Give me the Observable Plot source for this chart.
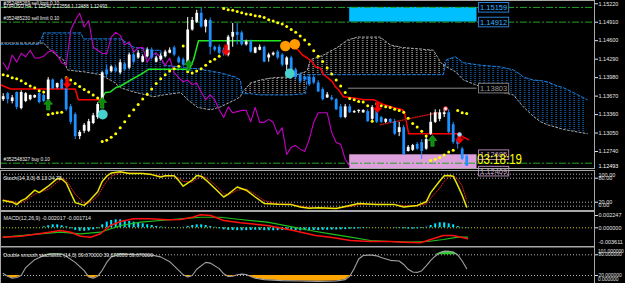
<!DOCTYPE html>
<html><head><meta charset="utf-8">
<script src="https://cdn.jsdelivr.net/npm/d3@7"></script>
<script src="https://cdn.jsdelivr.net/npm/@observablehq/plot@0.6"></script>
<style>
html,body{margin:0;padding:0;background:#000;}
#chart{position:relative;width:625px;height:283px;overflow:hidden;background:#000;}
#chart svg{display:block;}
</style></head><body>
<svg width="0" height="0" style="position:absolute">
<defs>
<pattern id="hatchBlue" patternUnits="userSpaceOnUse" x="0" y="0" width="4.5" height="2"><rect x="2.2" y="0" width="1" height="1" fill="#1E90FF"/></pattern>
<pattern id="hatchWhite" patternUnits="userSpaceOnUse" x="0" y="0" width="4.5" height="2"><rect x="2.2" y="0" width="1" height="1" fill="#E4E4E4"/></pattern>
</defs></svg>
<div id="chart"></div>
<script>
// ---------- DATA (EURUSD H4) ----------
const open = [1.1361,1.1371,1.1358,1.1373,1.1346,1.1358,1.1361,1.1364,1.1371,1.1368,
1.1361,1.1394,1.1381,1.1394,1.1379,1.1349,1.1336,1.1299,1.1308,1.1308,
1.1321,1.1331,1.1361,1.1411,1.1408,1.1414,1.1406,1.1421,1.1414,1.1436,
1.1431,1.1424,1.1433,1.1444,1.1424,1.1428,1.1433,1.1439,1.1448,1.1431,
1.1428,1.1423,1.1478,1.1491,1.1506,1.1483,1.1494,1.1449,1.1449,1.1444,
1.1436,1.1466,1.1474,1.1473,1.1453,1.1458,1.1439,1.1444,1.1449,1.1431,
1.1436,1.1441,1.1436,1.1419,1.1431,1.1411,1.1403,1.1399,1.1399,1.1398,
1.1389,1.1378,1.1364,1.1364,1.1361,1.1349,1.1331,1.1349,1.1339,1.1341,
1.1339,1.1341,1.1328,1.1344,1.1331,1.1323,1.1328,1.1324,1.1306,1.1314,
1.1274,1.1276,1.1286,1.1289,1.1278,1.1303,1.1323,1.1328,1.1336,1.1339,
1.1319,1.1294,1.1278,1.1266];
const high = [1.1371,1.1373,1.1368,1.1374,1.1376,1.1373,1.1369,1.1369,1.1373,1.1371,
1.1398,1.1396,1.1389,1.1396,1.1394,1.1353,1.1339,1.1309,1.1321,1.1328,
1.1338,1.1356,1.1408,1.1419,1.1418,1.1418,1.1428,1.1424,1.1439,1.1439,
1.1443,1.1436,1.1448,1.1448,1.1434,1.1438,1.1444,1.1448,1.1451,1.1434,
1.1431,1.1499,1.1499,1.1511,1.1514,1.1496,1.1498,1.1451,1.1453,1.1448,
1.1469,1.1489,1.1489,1.1476,1.1461,1.1461,1.1449,1.1453,1.1451,1.1439,
1.1441,1.1444,1.1438,1.1433,1.1434,1.1414,1.1406,1.1401,1.1403,1.1401,
1.1393,1.1381,1.1373,1.1368,1.1363,1.1353,1.1353,1.1353,1.1343,1.1344,
1.1344,1.1344,1.1351,1.1348,1.1333,1.1329,1.1329,1.1328,1.1323,1.1318,
1.1284,1.1286,1.1289,1.1294,1.1298,1.1339,1.1344,1.1344,1.1344,1.1344,
1.1323,1.1298,1.1281,1.1269];
const low = [1.1358,1.1354,1.1354,1.1344,1.1344,1.1356,1.1359,1.1363,1.1354,1.1356,
1.1358,1.1378,1.1379,1.1378,1.1341,1.1319,1.1294,1.1294,1.1304,1.1306,
1.1319,1.1328,1.1356,1.1399,1.1406,1.1406,1.1403,1.1408,1.1411,1.1421,
1.1429,1.1423,1.1431,1.1428,1.1423,1.1426,1.1431,1.1438,1.1433,1.1421,
1.1416,1.1414,1.1476,1.1489,1.1481,1.1473,1.1436,1.1441,1.1436,1.1434,
1.1433,1.1449,1.1453,1.1451,1.1451,1.1439,1.1438,1.1443,1.1423,1.1424,
1.1434,1.1428,1.1416,1.1398,1.1403,1.1394,1.1388,1.1391,1.1383,1.1386,
1.1373,1.1359,1.1363,1.1359,1.1343,1.1329,1.1329,1.1338,1.1338,1.1338,
1.1338,1.1323,1.1326,1.1321,1.1321,1.1321,1.1321,1.1301,1.1299,1.1268,
1.1273,1.1274,1.1276,1.1261,1.1276,1.1301,1.1321,1.1324,1.1331,1.1304,
1.1286,1.1278,1.1259,1.1249];
const close = [1.1366,1.1361,1.1364,1.1348,1.1373,1.1371,1.1368,1.1368,1.1356,1.1358,
1.1394,1.1379,1.1388,1.1379,1.1344,1.1323,1.1299,1.1306,1.1318,1.1324,
1.1334,1.1353,1.1406,1.1403,1.1416,1.1408,1.1423,1.1411,1.1436,1.1424,
1.1439,1.1433,1.1444,1.1431,1.1431,1.1434,1.1441,1.1444,1.1436,1.1423,
1.1419,1.1478,1.1494,1.1506,1.1483,1.1494,1.1449,1.1444,1.1439,1.1438,
1.1466,1.1474,1.1469,1.1453,1.1458,1.1441,1.1448,1.1449,1.1424,1.1436,
1.1439,1.1431,1.1419,1.1431,1.1406,1.1398,1.1391,1.1394,1.1386,1.1389,
1.1374,1.1361,1.1369,1.1361,1.1344,1.1331,1.1349,1.1339,1.1341,1.1343,
1.1343,1.1324,1.1348,1.1323,1.1323,1.1328,1.1323,1.1303,1.1314,1.1269,
1.1281,1.1284,1.1278,1.1274,1.1294,1.1323,1.1339,1.1339,1.1339,1.1306,
1.1289,1.1286,1.1261,1.12493];
const sar = [1.1403,1.1401,1.1398,1.1396,1.1393,1.1388,1.1384,1.1381,1.1376,1.1374,
1.1336,1.1338,1.1339,1.1340,1.1398,1.1394,1.1388,1.1383,1.1378,1.1374,
1.1369,1.1364,1.1291,1.1293,1.1298,1.1304,1.1314,1.1324,1.1334,1.1344,
1.1353,1.1362,1.1370,1.1379,1.1388,1.1396,1.1403,1.1409,1.1413,1.1417,
1.1451,1.1408,1.1406,1.1409,1.1413,1.1419,1.1425,1.1429,1.1434,1.1514,
1.1512,1.1511,1.1509,1.1507,1.1505,1.1504,1.1502,1.1501,1.1499,1.1495,
1.1493,1.1490,1.1488,1.1484,1.1479,1.1474,1.1468,1.1461,1.1454,1.1443,
1.1434,1.1425,1.1414,1.1404,1.1394,1.1384,1.1373,1.1363,1.1361,1.1358,
1.1357,1.1351,1.1325,1.1354,1.1351,1.1349,1.1348,1.1345,1.1343,1.1340,
1.1330,1.1321,1.1315,1.1308,1.1300,1.1259,1.1261,1.1264,1.1268,1.1273,
1.1276,1.1343,1.1339,1.1338];
// Ichimoku cloud (bar position, Senkou A, Senkou B)
const cloudK = [-0.6,8,9,10.5,12.3,13.4,14.3,17.3,17.8,21.6,24.5,26.1,29,33.4,35,35.6,39.4,41,43.2,46.1,
48.3,51.6,52.7,53.2,55,57.2,60,63.8,67.2,67.6,68.3,71.2,74.3,76.5,78.7,83.8,86,88.3,95.6,97.2,
97.8,98.5,100.5,102.3,106,110.5,113.4,115,115.6,117.8,119.4,120.9,123.2,124.5,126.7,129.8];
const spanA = [1.1456,1.1456,1.1456,1.1444,1.1433,1.1428,1.1411,1.1408,1.1408,1.1403,1.1391,1.1381,1.1374,1.1366,1.1368,1.1369,1.1373,1.1361,1.1348,1.1344,
1.1349,1.1361,1.1366,1.1374,1.1389,1.1394,1.1398,1.1399,1.1408,1.1411,1.1428,1.1436,1.1449,1.1461,1.1466,1.1466,1.1453,1.1449,1.1444,1.1424,
1.1419,1.1416,1.1408,1.1394,1.1383,1.1374,1.1369,1.1354,1.1349,1.1333,1.1324,1.1319,1.1314,1.1311,1.1308,1.1304];
const spanB = [1.1454,1.1454,1.1473,1.1473,1.1473,1.1473,1.1473,1.1473,1.1463,1.1463,1.1463,1.1463,1.1449,1.1444,1.1444,1.1419,1.1416,1.1414,1.1413,1.1409,
1.1406,1.1399,1.1394,1.1371,1.1371,1.1369,1.1369,1.1369,1.1371,1.1403,1.1403,1.1403,1.1403,1.1403,1.1403,1.1403,1.1403,1.1403,1.1403,1.1403,
1.1403,1.1428,1.1433,1.1423,1.1419,1.1416,1.1411,1.1403,1.1399,1.1394,1.1393,1.1391,1.1384,1.1381,1.1373,1.1361];
// Tenkan line, coloured by trend
const red1K = [-0.6,1.6,16,16.7,21.7];
const red1V = [1.1386,1.1379,1.1379,1.1361,1.1361];
const greenK = [21.7,22.7,23.8,25,26.1,28.3,30.5,32.3,40.5,41,41.6,42.3,43.4,61.6];
const greenV = [1.1361,1.1373,1.1374,1.1381,1.1384,1.1394,1.1403,1.1412,1.1412,1.1411,1.1416,1.1428,1.1460,1.1460];
const red2K = [63.5,64.5,65.6,66.5,67.6,68.7,69.4,70.5,71.2,72.1,73.2,73.8,74.5,75.6,77.9,80.1,82.3,84.5,86.7,88.7,89.2,90.1,101,102.3,103.4];
const red2V = [1.1455,1.1450,1.1444,1.1436,1.1431,1.1424,1.1416,1.1414,1.1403,1.1398,1.1391,1.1383,1.1378,1.1366,1.1364,1.1361,1.1361,1.1353,1.1348,1.1344,1.1339,1.1304,1.1304,1.1298,1.1294];
const trendK = [83.8,96.5];
const trendV = [1.1319,1.1339];
// signals
const sellK = [14.2,49.5,83.2,101.4];
const sellP = [1.1389,1.1444,1.1348,1.1296];
const buyK = [10,22,41.2,95.4];
const buyP = [1.1353,1.1356,1.1419,1.1292];
const cyanK = [22.1,63.7];
const cyanP = [1.1336,1.1405];
const orangeK = [62.7,64.8];
const orangeP = [1.1451,1.1454];
// objects and orders
const zoneStart = 77, zoneEnd = 105.3;
const blueZone = [1.14912, 1.15159];
const pinkZone = [1.12409, 1.12685];
const grayLevel = 1.13803;
const orderPrices = [1.15159, 1.14912, 1.12544];
const orderLabels = ["#352485269 sell limit 0.10", "#352485230 sell limit 0.10", "#352548327 buy 0.10"];
const priceTicks = [1.1522,1.1491,1.1460,1.1429,1.1398,1.1367,1.1336,1.1305,1.1274];
const headerText = "EURUSD,H4  1.12540 1.12558 1.12488 1.12493";
const timerText = "03:18:19";
// Stochastic
const stochK = [0,2,3,4,5,7,8,10,12,13,14,16,18,19,21,22,23,24,26,28,31,33,35,36,38,39,40,42,43,44,45,47,49,50,52,54,56,58,61,64,66,68,70,74,77,79,83,87,89,92,94,95,97,98,99,100,101,102,103];
const stochMain = [24,20,14,24,29,50,44,60,79,78,68,19,12,22,46,72,85,93,96,92,92,89,83,86,86,74,60,75,87,85,76,55,33,40,58,50,33,17,15,14,8,5,6,4,12,17,14,14,8,12,21,44,73,86,87,85,62,37,8.13];
const stochSignal = [26,22,19,20,24,40,45,52,70,78,75,40,18,17,35,55,72,85,94,93,92,90,85,85,86,80,72,70,78,85,82,64,42,38,50,53,40,24,16,15,10,7,6,5,9,14,15,14,11,11,16,30,55,72,83,86,78,60,24.78];
const stochLevels = [90,80,20,10];
const stochScale = ["100.00", "0.00"];
// MACD
const macdHist = [0.00002,0.00002,0.00001,-0.00001,0.00001,0.00002,0.00003,0.00003,0.00002,
0.00018,0.00037,0.00055,0.00055,0.00037,0.00018,
-0.00018,-0.00046,-0.00064,-0.00064,-0.00055,-0.00037,-0.00018,
0.00055,0.00104,0.00134,0.00146,0.00146,0.00134,0.00115,0.00104,0.00092,0.00073,0.00055,0.00042,0.00024,
0.00015,0.00009,0,-0.00009,0,0.00009,
0.00024,0.00042,0.00055,0.00055,0.00042,0.00024,0.00009,
-0.00018,-0.00037,-0.00046,-0.00049,-0.00052,-0.00055,-0.00052,-0.00049,-0.00046,-0.00049,-0.00052,-0.00055,-0.00055,-0.00052,-0.00049,-0.00046,-0.00049,-0.00052,-0.00055,-0.00052,
-0.0005,-0.0005,-0.00049,-0.00046,-0.00046,-0.00042,-0.0004,-0.00037,-0.00033,-0.00027,-0.00024,-0.00018,-0.00012,
-0.00006,-0.00003,-0.00002,-0.00002,0.00001,-0.00001,-0.00006,-0.00012,-0.00018,-0.00024,-0.00024,-0.00018,-0.00012,
0.00012,0.00042,0.00073,0.00092,0.00092,0.00073,0.00055,0.00024,0.00006,-0.00006];
const macdK = [0,4,8,12.7,15,17.2,19.4,21.6,23.8,26.1,29,32.7,36.5,39.4,42.1,43.8,46.1,49,52.7,58.7,64.5,69.4,72.7,77.2,81.6,86,89,92.7,95,97.8,100,103.2];
const macdMain = [-0.00172,-0.00154,-0.0011,-0.0005,-0.00081,-0.00154,-0.00172,-0.0011,0.00042,0.00116,0.00165,0.00165,0.00147,0.00152,0.00194,0.00239,0.00226,0.00134,0.00092,0.00042,-0.0005,-0.00141,-0.00172,-0.00233,-0.00251,-0.00251,-0.00264,-0.00275,-0.00215,-0.00141,-0.00141,-0.002017];
const signalK = [0,4,8,12.7,17.2,21.6,26.1,30.5,35,39.4,43.8,48.3,52.7,58.7,64.5,68.2,72.7,77.2,81.6,86,90.5,94.3,97.8,101,103.2];
const macdSignal = [-0.00172,-0.00141,-0.0011,-0.00081,-0.0011,-0.00081,0.00042,0.00103,0.00134,0.00165,0.00194,0.00194,0.00152,0.00103,0.00011,-0.0005,-0.0011,-0.00172,-0.00233,-0.00251,-0.00264,-0.00251,-0.00215,-0.00172,-0.001714];
const macdScaleMin = "-0.003611";
// Double smoothed stochastic
const dssK = [0,1,2,3,4,5,7,9,11,13,14,16,18,19,20,21,22,23,24,26,29,31,33,35,37,39,40,41,42,43,45,46,48,49,50,51,52,53,54,55,56,58,62,66,70,74,76,77,78,79,80,81,82,83,84,86,88,89,90,91,92,93,94,95,96,97,98,99,100,101,102,103];
const dss = [26,18,12,14,20,43,66,78,84,82,76,58,34,16,12,18,35,58,74,82,81,80,79,74,60,35,22,16,20,38,58,56,40,25,17,18,22,24,23,17,12,8,5,4,3,4,8,18,40,68,78,79,79,77,72,64,62,52,38,30,29,34,48,64,76,86,90,90,88,80,62,39.67];
const dssScale = ["101.000000", "0.000000"];

// ---------- CHART ----------
const W = 625, RIGHT = 31;
const xDomain = [-0.6, 131.4];
const FONT = "'Liberation Sans', Arial, sans-serif";
const style = {background: "transparent", color: "#e6e6e6", fontFamily: FONT, fontSize: "5.5px", overflow: "visible"};
const bars = open.map((o, i) => ({i, o, h: high[i], l: low[i], c: close[i]}));
const bull = bars.filter(d => d.c >= d.o), bear = bars.filter(d => d.c < d.o);
const cloud = cloudK.map((k, j) => ({k, a: spanA[j], b: spanB[j]}));
const chikou = close.slice(26).map((c, j) => ({k: j, c}));
const pts = (K, V) => K.map((k, j) => ({k, v: V[j]}));
const BULL = "#ffffff", BEAR = "#1e90ff";

const arrowDown = {draw(ctx, size) {
  const r = Math.sqrt(size / Math.PI), s = 0.3 * r, w = 0.8 * r, m = 0.05 * r;
  ctx.moveTo(-s, -r); ctx.lineTo(s, -r); ctx.lineTo(s, m); ctx.lineTo(w, m);
  ctx.lineTo(0, r); ctx.lineTo(-w, m); ctx.lineTo(-s, m); ctx.closePath();
}};
const arrowUp = {draw(ctx, size) {
  const r = Math.sqrt(size / Math.PI), s = 0.3 * r, w = 0.8 * r, m = 0.05 * r;
  ctx.moveTo(-s, r); ctx.lineTo(s, r); ctx.lineTo(s, -m); ctx.lineTo(w, -m);
  ctx.lineTo(0, -r); ctx.lineTo(-w, -m); ctx.lineTo(-s, -m); ctx.closePath();
}};

const base = {width: W, marginLeft: 0, marginRight: RIGHT, marginTop: 0, marginBottom: 0, style, x: {domain: xDomain, axis: null}};

const main = Plot.plot({...base, height: 168,
  y: {domain: [1.12455, 1.15275], axis: "right", ticks: priceTicks, tickFormat: d3.format(".5f"), tickSize: 3, tickPadding: 1, label: null},
  marks: [
    Plot.rect([{k1: zoneStart, k2: zoneEnd, p1: blueZone[0], p2: blueZone[1]}], {x1: "k1", x2: "k2", y1: "p1", y2: "p2", fill: "#00bfff", clip: true}),
    Plot.rect([{k1: zoneStart, k2: zoneEnd, p1: pinkZone[0], p2: pinkZone[1]}], {x1: "k1", x2: "k2", y1: "p1", y2: "p2", fill: "#dda0dd", clip: true}),
    Plot.areaY(cloud, {x: "k", y1: "a", y2: d => Math.max(d.a, d.b), fill: "#0000fe"}),
    Plot.areaY(cloud, {x: "k", y1: "b", y2: d => Math.max(d.a, d.b), fill: "#fefefe"}),
    Plot.line(cloud, {x: "k", y: "a", stroke: "#b8b8b8", strokeWidth: 0.9, strokeDasharray: "2,2"}),
    Plot.line(cloud, {x: "k", y: "b", stroke: "#1e90ff", strokeWidth: 0.9, strokeDasharray: "3,2"}),
    Plot.ruleY(orderPrices, {stroke: "#25a025", strokeDasharray: "7,2,2,2"}),
    Plot.ruleY([{p: grayLevel, k1: zoneStart - 0.3, k2: zoneEnd}], {y: "p", x1: "k1", x2: "k2", stroke: "#8c8c8c"}),
    Plot.line(chikou, {x: "k", y: "c", stroke: "#c400c4", strokeWidth: 1.1}),
    Plot.line(pts(red1K, red1V), {x: "k", y: "v", stroke: "#ff0000", strokeWidth: 1.5}),
    Plot.line(pts(greenK, greenV), {x: "k", y: "v", stroke: "#22e622", strokeWidth: 1.5}),
    Plot.line(pts(red2K, red2V), {x: "k", y: "v", stroke: "#ff0000", strokeWidth: 1.5}),
    Plot.line(pts(trendK, trendV), {x: "k", y: "v", stroke: "#b01010", strokeDasharray: "1,1.5"}),
    Plot.ruleX(bear, {x: "i", y1: "l", y2: "h", stroke: BEAR}),
    Plot.ruleX(bull, {x: "i", y1: "l", y2: "h", stroke: BULL}),
    Plot.ruleX(bear, {x: "i", y1: "o", y2: "c", stroke: BEAR, strokeWidth: 2.8}),
    Plot.ruleX(bull, {x: "i", y1: "o", y2: "c", stroke: BULL, strokeWidth: 2.8}),
    Plot.dot(sar.map((s, i) => ({i, s})), {x: "i", y: "s", r: 1.5, fill: "#ffff00"}),
    Plot.dot(pts(cyanK, cyanP), {x: "k", y: "v", r: 5, fill: "#48d1cc"}),
    Plot.dot(pts(orangeK, orangeP), {x: "k", y: "v", r: 5.3, fill: "#ff9a00"}),
    Plot.dot(pts(buyK, buyP), {x: "k", y: "v", r: 5.5, symbol: arrowUp, fill: "#0b8a0b", stroke: "#35c835", strokeWidth: 0.5}),
    Plot.dot(pts(sellK, sellP), {x: "k", y: "v", r: 5.5, symbol: arrowDown, fill: "#ff0000", stroke: "#a00000", strokeWidth: 0.5}),
    Plot.dot([{k: sellK[3], v: sellP[3]}], {x: "k", y: "v", r: 2.2, dy: -4, fill: "#9fd4f5"}),
    Plot.dot([{k: 98.3, v: 1.1346}], {x: "k", y: "v", r: 2, fill: "#ffe0e0", stroke: "#ff3030", strokeWidth: 0.8}),
    Plot.text([headerText], {frameAnchor: "top-left", dx: 3, dy: 4.5, textAnchor: "start", fontSize: 4.8, fill: "#f0f0f0"}),
    Plot.text(orderPrices.map((p, j) => ({p, t: orderLabels[j]})), {y: "p", text: "t", frameAnchor: "left", dx: 3, dy: -3.5, textAnchor: "start", fontSize: 4.8, fill: "#f0f0f0"}),
    Plot.text([blueZone[1], blueZone[0]], {x: zoneEnd, y: d => d, text: d => d3.format(".5f")(d), textAnchor: "start", dx: 3, fontSize: 7.5, fill: "#38b4ff"}),
    Plot.text([grayLevel], {x: zoneEnd, y: d => d, text: d => d3.format(".5f")(d), textAnchor: "start", dx: 3, fontSize: 7.5, fill: "#9a9a9a"}),
    Plot.text([pinkZone[1], pinkZone[0]], {x: zoneEnd, y: d => d, text: d => d3.format(".5f")(d), textAnchor: "start", dx: 3, fontSize: 7.5, fill: "#c8a0c8"}),
    Plot.text([close[close.length - 1]], {x: zoneEnd, y: d => d, text: () => timerText, textAnchor: "start", dx: 0, dy: -7.5, fontSize: 15, fill: "#ffff00"}),
    Plot.text([close[close.length - 1]], {y: d => d, text: d => d3.format(".5f")(d), frameAnchor: "right", dx: 4, dy: -0.5, textAnchor: "start", fill: "#ffffff"}),
    Plot.frame({stroke: "#a8a8a8"})
  ]});

const stochData = stochK.map((k, j) => ({k, m: stochMain[j], s: stochSignal[j]}));
const stoch = Plot.plot({...base, height: 42,
  y: {domain: [-0.75, 104.25], axis: "right", ticks: [80, 20], tickFormat: d3.format(".2f"), tickSize: 3, tickPadding: 1, label: null},
  marks: [
    Plot.frame({stroke: "#a8a8a8", insetTop: 2}),
    Plot.ruleY(stochLevels, {stroke: "#b4b4b4", strokeDasharray: "1,2"}),
    Plot.line(stochData, {x: "k", y: "s", stroke: "#ff2020", strokeWidth: 0.9, strokeDasharray: "1,1.5"}),
    Plot.line(stochData, {x: "k", y: "m", stroke: "#e6e600"}),
    Plot.text([`Stoch(14,3,3) ${stochMain[stochMain.length-1].toFixed(2)} ${stochSignal[stochSignal.length-1].toFixed(2)}`], {frameAnchor: "top-left", dx: 3, dy: 8, textAnchor: "start", fontSize: 5.3}),
    Plot.text([stochScale[0]], {frameAnchor: "top-right", dx: 4, dy: 5, textAnchor: "start"}),
    Plot.text([stochScale[1]], {frameAnchor: "bottom-right", dx: 4, dy: -3.5, textAnchor: "start"})
  ]});

const macd = Plot.plot({...base, height: 36,
  y: {domain: [-0.003431, 0.003174], axis: "right", ticks: [0.002247, 0], tickFormat: d3.format(".6f"), tickSize: 3, tickPadding: 1, label: null},
  marks: [
    Plot.frame({stroke: "#a8a8a8", insetTop: 1}),
    Plot.ruleY([0], {stroke: "#c8c800", strokeDasharray: "1,2"}),
    Plot.ruleX(macdHist.map((h, i) => ({i, h})), {x: "i", y1: 0, y2: "h", stroke: "#00e5ff", strokeWidth: 2}),
    Plot.line(pts(signalK, macdSignal), {x: "k", y: "v", stroke: "#1fbf1f", strokeWidth: 1.2}),
    Plot.line(pts(macdK, macdMain), {x: "k", y: "v", stroke: "#ff1010", strokeWidth: 1.5}),
    Plot.text([`MACD(12,26,9) ${macdMain[macdMain.length-1].toFixed(6)} ${macdSignal[macdSignal.length-1].toFixed(6)}`], {frameAnchor: "top-left", dx: 3, dy: 6, textAnchor: "start", fontSize: 5.3}),
    Plot.text([macdScaleMin], {frameAnchor: "bottom-right", dx: 4, dy: -2.5, textAnchor: "start"})
  ]});

const dssData = dssK.map((k, j) => ({k, v: dss[j]}));
const dssPlot = Plot.plot({...base, height: 37,
  style: {...style, fontSize: "4.9px"},
  y: {domain: [-3.2, 104.1], axis: "right", ticks: [80, 20], tickFormat: d3.format(".6f"), tickSize: 3, tickPadding: 1, label: null},
  marks: [
    Plot.frame({stroke: "#a8a8a8", insetTop: 0.5}),
    Plot.ruleY([80, 20], {stroke: "#b4b4b4", strokeDasharray: "1,2"}),
    Plot.areaY(dssData, {x: "k", y1: 20, y2: d => Math.min(d.v, 20), fill: "#ffa500"}),
    Plot.areaY(dssData, {x: "k", y1: 80, y2: d => Math.max(d.v, 80), fill: "#2ecc2e"}),
    Plot.line(dssData, {x: "k", y: "v", stroke: "#a0a0a0", strokeWidth: 1.1}),
    Plot.text([`Double smooth stochastic (14,3) ${dss[dss.length-1].toFixed(6)} ${dss[dss.length-1].toFixed(6)} ${dss[dss.length-1].toFixed(6)}`], {frameAnchor: "top-left", dx: 3, dy: 6.5, textAnchor: "start", fontSize: 5.1}),
    Plot.text([dssScale[0]], {frameAnchor: "top-right", dx: 3.5, dy: 3.5, textAnchor: "start"}),
    Plot.text([dssScale[1]], {frameAnchor: "bottom-right", dx: 3.5, dy: -2.5, textAnchor: "start"})
  ]});

const container = document.getElementById("chart");
[main, stoch, macd, dssPlot].forEach(s => container.appendChild(s));

// hatch fills for the cloud
d3.select(container).selectAll('[fill="#0000fe"]').attr("fill", "url(#hatchBlue)");
d3.select(container).selectAll('[fill="#fefefe"]').attr("fill", "url(#hatchWhite)");

// boxes around price labels
const boxStyles = {"1.15159": ["#2a7fd4", "#000"], "1.14912": ["#2a7fd4", "#000"], "1.13803": ["#7a7a7a", "#000"], "1.12685": ["#b080b0", "#000"], "1.12409": ["#b080b0", "#000"]};
d3.select(main).selectAll("text").each(function() {
  const t = this.textContent;
  const isBid = t === d3.format(".5f")(close[close.length - 1]) && this.getAttribute("fill") === "#ffffff";
  if (!(t in boxStyles) && !isBid) return;
  const b = this.getBBox();
  const [stroke, fill] = isBid ? ["#8a8a8a", "#8a8a8a"] : boxStyles[t];
  d3.select(this.parentNode).insert("rect", () => this)
    .attr("transform", this.getAttribute("transform"))
    .attr("x", b.x - 1.5).attr("y", b.y - 0.3).attr("width", b.width + 3).attr("height", b.height + 0.6)
    .attr("fill", fill).attr("stroke", stroke).attr("stroke-width", 1);
});
d3.select(main).selectAll("text").filter(function() { return this.textContent === timerText; })
  .attr("textLength", 45).attr("lengthAdjust", "spacingAndGlyphs");
</script></body></html>
